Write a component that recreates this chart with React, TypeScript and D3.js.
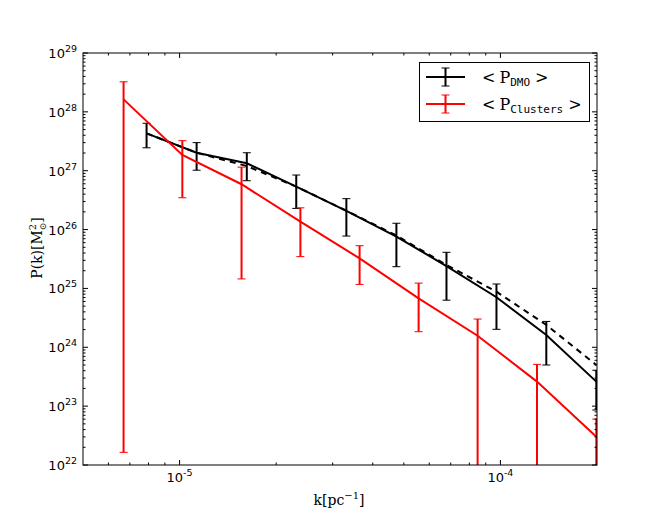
import React from 'react';
import * as d3 from 'd3';

// k values (pc^-1) of the two binnings
const kDMO = [7.89e-6, 1.13e-5, 1.62e-5, 2.31e-5, 3.31e-5, 4.74e-5, 6.79e-5, 9.72e-5, 1.39e-4, 1.99e-4];
const kClusters = [6.69e-6, 1.02e-5, 1.56e-5, 2.38e-5, 3.64e-5, 5.56e-5, 8.49e-5, 1.3e-4, 1.99e-4];

// <P_DMO> mean and error bar ends
const pDMO = [4.32e27, 2.02e27, 1.34e27, 5.37e26, 2.07e26, 7.59e25, 2.4e25, 7.08e24, 1.62e24, 2.61e23];
const pDMOHi = [6.4e27, 3.0e27, 2.02e27, 8.45e26, 3.35e26, 1.28e26, 4.11e25, 1.19e25, 2.75e24, 4.07e23];
const pDMOLo = [2.45e27, 1.02e27, 6.76e26, 2.29e26, 7.76e25, 2.34e25, 6.31e24, 2.02e24, 5.0e23, 8.6e22];

// dashed reference curve
const pRef = [4.32e27, 2.02e27, 1.2e27, 5.37e26, 2.09e26, 7.94e25, 2.51e25, 8.8e24, 2.4e24, 5.0e23];

// <P_Clusters> mean and error bar ends
const pClusters = [1.63e28, 1.85e27, 5.89e26, 1.36e26, 3.24e25, 6.76e24, 1.57e24, 2.61e23, 3.02e22];
const pClustersHi = [3.24e28, 3.24e27, 1.15e27, 2.34e26, 5.32e25, 1.23e25, 3.02e24, 5.13e23, 6.03e22];
const pClustersLo = [1.64e22, 3.47e26, 1.45e25, 3.47e25, 1.17e25, 1.84e24, 1e21, 1e21, 1e21];

const xDecades = [-5, -4];
const yDecades = [22, 23, 24, 25, 26, 27, 28, 29];

const W = 664;
const H = 532;
const m = { left: 83, right: 597, top: 53, bottom: 465 };

const x = d3.scaleLog().domain([5e-6, 2e-4]).range([m.left, m.right]);
const y = d3.scaleLog().domain([1e22, 1e29]).range([m.bottom, m.top]);

const line = d3
  .line<[number, number]>()
  .x(d => x(d[0]))
  .y(d => y(d[1]));

function minorTicks(lo: number, hi: number) {
  const out: number[] = [];
  for (let e = Math.floor(Math.log10(lo)); e <= Math.ceil(Math.log10(hi)); e++) {
    for (let j = 2; j <= 9; j++) {
      const v = j * Math.pow(10, e);
      if (v > lo && v < hi) out.push(v);
    }
  }
  return out;
}

const sans = 'DejaVu Sans, sans-serif';
const serif = 'DejaVu Serif, serif';
const mono = 'DejaVu Sans Mono, monospace';

function ErrorBars({ ks, hi, lo, color }: { ks: number[]; hi: number[]; lo: number[]; color: string }) {
  return (
    <g>
      {ks.map((k, i) => {
        const cx = x(k);
        const y1 = y(hi[i]);
        const y2 = y(Math.max(lo[i], 1e19));
        return (
          <g key={i}>
            <line x1={cx} x2={cx} y1={y1} y2={y2} stroke={color} strokeWidth={2} />
            <line x1={cx - 4} x2={cx + 4} y1={y1} y2={y1} stroke={color} strokeWidth={1} />
            <line x1={cx - 4} x2={cx + 4} y1={y2} y2={y2} stroke={color} strokeWidth={1} />
          </g>
        );
      })}
    </g>
  );
}

function LegendItem({ y0, color, sub }: { y0: number; color: string; sub: string }) {
  const cx = 445.5;
  return (
    <g>
      <line x1={426} x2={465} y1={y0} y2={y0} stroke={color} strokeWidth={2} />
      <line x1={cx} x2={cx} y1={y0 - 9} y2={y0 + 9} stroke={color} strokeWidth={2} />
      <line x1={cx - 4} x2={cx + 4} y1={y0 - 9} y2={y0 - 9} stroke={color} strokeWidth={1} />
      <line x1={cx - 4} x2={cx + 4} y1={y0 + 9} y2={y0 + 9} stroke={color} strokeWidth={1} />
      <text x={482} y={y0 + 6} fontFamily={serif} fontSize={16} fill="#000">
        <tspan>{'<'}</tspan>
        <tspan dx={4}>P</tspan>
        <tspan fontFamily={mono} fontSize={11} dy={3}>{sub}</tspan>
        <tspan dx={5} dy={-3}>{'>'}</tspan>
      </text>
    </g>
  );
}

export default function App() {
  const xMinor = minorTicks(5e-6, 2e-4);
  const yMinor = minorTicks(1e22, 1e29);
  const dmoPts = kDMO.map((k, i) => [k, pDMO[i]] as [number, number]);
  const refPts = kDMO.map((k, i) => [k, pRef[i]] as [number, number]);
  const cluPts = kClusters.map((k, i) => [k, pClusters[i]] as [number, number]);

  return (
    <svg width={W} height={H} style={{ position: 'absolute', left: 0, top: 0, background: '#fff' }}>
      <defs>
        <clipPath id="plot">
          <rect x={m.left} y={m.top} width={m.right - m.left} height={m.bottom - m.top} />
        </clipPath>
      </defs>
      <rect x={0} y={0} width={W} height={H} fill="#fff" />

      <g clipPath="url(#plot)">
        {/* DMO */}
        <ErrorBars ks={kDMO} hi={pDMOHi} lo={pDMOLo} color="#000" />
        <path d={line(dmoPts) || ''} fill="none" stroke="#000" strokeWidth={2} />
        <path d={line(refPts) || ''} fill="none" stroke="#000" strokeWidth={2} strokeDasharray="6,5" />
        {/* Clusters */}
        <ErrorBars ks={kClusters} hi={pClustersHi} lo={pClustersLo} color="#ff0000" />
        <path d={line(cluPts) || ''} fill="none" stroke="#ff0000" strokeWidth={2} />
      </g>

      {/* ticks, all four sides, pointing in */}
      <g stroke="#000" strokeWidth={1}>
        {xDecades.map(e => {
          const px = x(Math.pow(10, e));
          return (
            <g key={'xM' + e}>
              <line x1={px} x2={px} y1={m.bottom} y2={m.bottom - 5} />
              <line x1={px} x2={px} y1={m.top} y2={m.top + 5} />
            </g>
          );
        })}
        {xMinor.map((v, i) => (
          <g key={'xm' + i}>
            <line x1={x(v)} x2={x(v)} y1={m.bottom} y2={m.bottom - 2.5} />
            <line x1={x(v)} x2={x(v)} y1={m.top} y2={m.top + 2.5} />
          </g>
        ))}
        {yDecades.map(e => {
          const py = y(Math.pow(10, e));
          return (
            <g key={'yM' + e}>
              <line x1={m.left} x2={m.left + 5} y1={py} y2={py} />
              <line x1={m.right} x2={m.right - 5} y1={py} y2={py} />
            </g>
          );
        })}
        {yMinor.map((v, i) => (
          <g key={'ym' + i}>
            <line x1={m.left} x2={m.left + 2.5} y1={y(v)} y2={y(v)} />
            <line x1={m.right} x2={m.right - 2.5} y1={y(v)} y2={y(v)} />
          </g>
        ))}
      </g>

      <rect
        x={m.left}
        y={m.top}
        width={m.right - m.left}
        height={m.bottom - m.top}
        fill="none"
        stroke="#000"
        strokeWidth={1}
      />

      {/* tick labels */}
      {xDecades.map(e => (
        <text key={'xl' + e} x={x(Math.pow(10, e))} y={482} textAnchor="middle" fontFamily={sans} fontSize={13}>
          <tspan>10</tspan>
          <tspan fontSize={9.5} dy={-6}>{e}</tspan>
        </text>
      ))}
      {yDecades.map(e => (
        <text key={'yl' + e} x={77} y={y(Math.pow(10, e)) + 5} textAnchor="end" fontFamily={sans} fontSize={13}>
          <tspan>10</tspan>
          <tspan fontSize={9.5} dy={-6}>{e}</tspan>
        </text>
      ))}

      {/* axis titles */}
      <text x={339} y={505} textAnchor="middle" fontFamily={serif} fontSize={14}>
        <tspan>k[pc</tspan>
        <tspan fontSize={10} dy={-6}>−1</tspan>
        <tspan dy={6}>]</tspan>
      </text>
      <text
        transform="translate(42,248) rotate(-90)"
        textAnchor="middle"
        fontFamily={serif}
        fontSize={14}
      >
        <tspan>P(k)[M</tspan>
        <tspan fontSize={10} dy={-6}>2</tspan>
        <tspan fontSize={9} dx={-6.5} dy={10}>⊙</tspan>
        <tspan dy={-4}>]</tspan>
      </text>

      {/* legend */}
      <rect x={419.5} y={62.5} width={170} height={59} fill="#fff" stroke="#000" strokeWidth={1} />
      <LegendItem y0={77} color="#000" sub="DMO" />
      <LegendItem y0={104} color="#ff0000" sub="Clusters" />
    </svg>
  );
}
